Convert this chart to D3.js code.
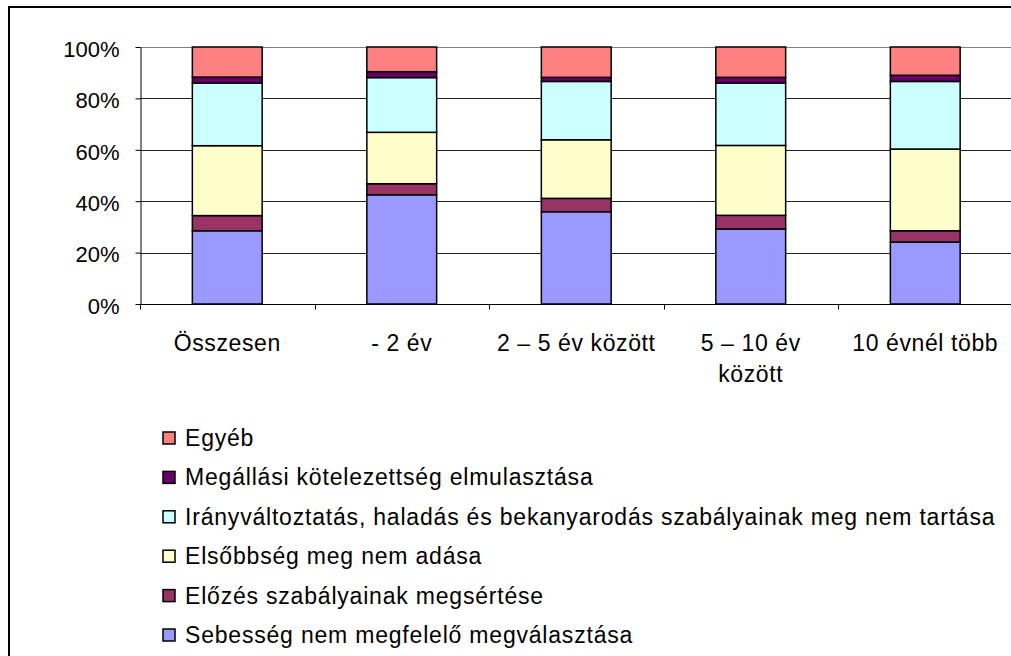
<!DOCTYPE html>
<meta charset="utf-8">
<style>
  body { margin: 0; background: #fff; }
  text { font-family: "Liberation Sans", Arial, sans-serif; fill: #000; }
  .tick text { font-size: 22px; }
  .cl { font-size: 23px; letter-spacing: 0.6px; }
  .legend text { font-size: 23px; letter-spacing: 0.8px; }
</style>
<body>
<script src="https://d3js.org/d3.v7.min.js"></script>
<script>
// categories and series (percent of each bar)
var categories = ["Összesen", "- 2 év", "2 – 5 év között", "5 – 10 év között", "10 évnél több"];
var seriesNames = [
  "Sebesség nem megfelelő megválasztása",
  "Előzés szabályainak megsértése",
  "Elsőbbség meg nem adása",
  "Irányváltoztatás, haladás és bekanyarodás szabályainak meg nem tartása",
  "Megállási kötelezettség elmulasztása",
  "Egyéb"
];
var sebesseg   = [28.5, 42.5, 35.9, 29.2, 24.1];
var elozes     = [5.9, 4.3, 5.2, 5.3, 4.4];
var elsobbseg  = [27.2, 20.0, 22.8, 27.2, 31.8];
var iranyvalt  = [24.4, 21.3, 22.7, 24.3, 26.3];
var megallasi  = [2.3, 2.3, 1.6, 2.2, 2.4];
var egyeb      = [11.7, 9.6, 11.8, 11.8, 11.0];
var yTicks = [0, 20, 40, 60, 80, 100];
var colors = ["#9999ff", "#993366", "#ffffcc", "#ccffff", "#660066", "#ff8080"];

var width = 1011, height = 656;
var svg = d3.select("body").append("svg")
    .attr("width", width)
    .attr("height", height);

// outer chart border
svg.append("rect")
    .attr("x", 9).attr("y", 7)
    .attr("width", 1020).attr("height", 670)
    .attr("fill", "none").attr("stroke", "#000").attr("stroke-width", 2);

var plotLeft = 140, plotRight = 1012.5, plotTop = 47, plotBottom = 304;

var rows = categories.map(function(c, i) {
  return { cat: c, s0: sebesseg[i], s1: elozes[i], s2: elsobbseg[i], s3: iranyvalt[i], s4: megallasi[i], s5: egyeb[i] };
});
var keys = ["s0", "s1", "s2", "s3", "s4", "s5"];
var stacked = d3.stack().keys(keys).offset(d3.stackOffsetExpand)(rows);

var x = d3.scaleBand().domain(categories).range([plotLeft, plotRight]).paddingInner(0.6).paddingOuter(0.3);
var y = d3.scaleLinear().domain([0, 1]).range([plotBottom, plotTop]);

// gridlines
svg.append("g").selectAll("line")
  .data(yTicks.slice(1))
  .enter().append("line")
    .attr("x1", plotLeft).attr("x2", width)
    .attr("y1", function(d) { return Math.round(y(d / 100)) + 0.5; })
    .attr("y2", function(d) { return Math.round(y(d / 100)) + 0.5; })
    .attr("stroke", function(d) { return d === 100 ? "#808080" : "#222"; })
    .attr("stroke-width", 1);

// bars
svg.append("g").selectAll("g")
  .data(stacked)
  .enter().append("g")
    .attr("fill", function(d, i) { return colors[i]; })
  .selectAll("rect")
  .data(function(d) { return d; })
  .enter().append("rect")
    .attr("x", function(d) { return x(d.data.cat); })
    .attr("y", function(d) { return y(d[1]); })
    .attr("width", x.bandwidth())
    .attr("height", function(d) { return y(d[0]) - y(d[1]); })
    .attr("stroke", "#000")
    .attr("stroke-width", 1.5);

// y axis
var yAxis = svg.append("g")
    .attr("transform", "translate(" + (plotLeft + 0.5) + ",0)")
    .call(d3.axisLeft(y).tickValues(yTicks.map(function(v) { return v / 100; }))
      .tickFormat(function(d) { return Math.round(d * 100) + "%"; })
      .tickSize(5).tickSizeOuter(0).tickPadding(16));
yAxis.attr("font-family", null).attr("font-size", null);
yAxis.select(".domain").attr("stroke", "#000");
yAxis.selectAll(".tick line").attr("stroke", "#000");
yAxis.selectAll(".tick text").attr("dy", "0.42em");

// x axis: ticks at category boundaries
var xg = svg.append("g").attr("transform", "translate(0," + (plotBottom + 0.5) + ")");
xg.append("line").attr("x1", plotLeft).attr("x2", width).attr("stroke", "#000");
var step = x.step();
xg.selectAll(".bt")
  .data(d3.range(categories.length + 1))
  .enter().append("line")
    .attr("x1", function(i) { return Math.round(plotLeft + i * step) + 0.5; })
    .attr("x2", function(i) { return Math.round(plotLeft + i * step) + 0.5; })
    .attr("y1", 0).attr("y2", 5)
    .attr("stroke", "#000");

// category labels, wrapped
var labelLines = {
  "5 – 10 év között": ["5 – 10 év", "között"]
};
xg.selectAll(".cl")
  .data(categories)
  .enter().append("text")
    .attr("class", "cl")
    .attr("text-anchor", "middle")
    .attr("x", function(d) { return x(d) + x.bandwidth() / 2; })
    .attr("y", 46)
    .each(function(d) {
      var lines = labelLines[d] || [d];
      var t = d3.select(this);
      lines.forEach(function(l, i) {
        t.append("tspan")
          .attr("x", x(d) + x.bandwidth() / 2)
          .attr("dy", i === 0 ? 0 : 31)
          .text(l);
      });
    });

// legend (reverse order, top = Egyéb)
var legend = svg.append("g").attr("class", "legend");
var order = d3.range(seriesNames.length).reverse();
var item = legend.selectAll("g")
  .data(order)
  .enter().append("g")
    .attr("transform", function(d, i) { return "translate(163," + (438 + i * 39.4) + ")"; });
item.append("rect")
    .attr("x", 0).attr("y", -6)
    .attr("width", 12).attr("height", 12)
    .attr("fill", function(d) { return colors[d]; })
    .attr("stroke", "#000").attr("stroke-width", 1.5);
item.append("text")
    .attr("x", 22).attr("y", 8)
    .text(function(d) { return seriesNames[d]; });
</script>
